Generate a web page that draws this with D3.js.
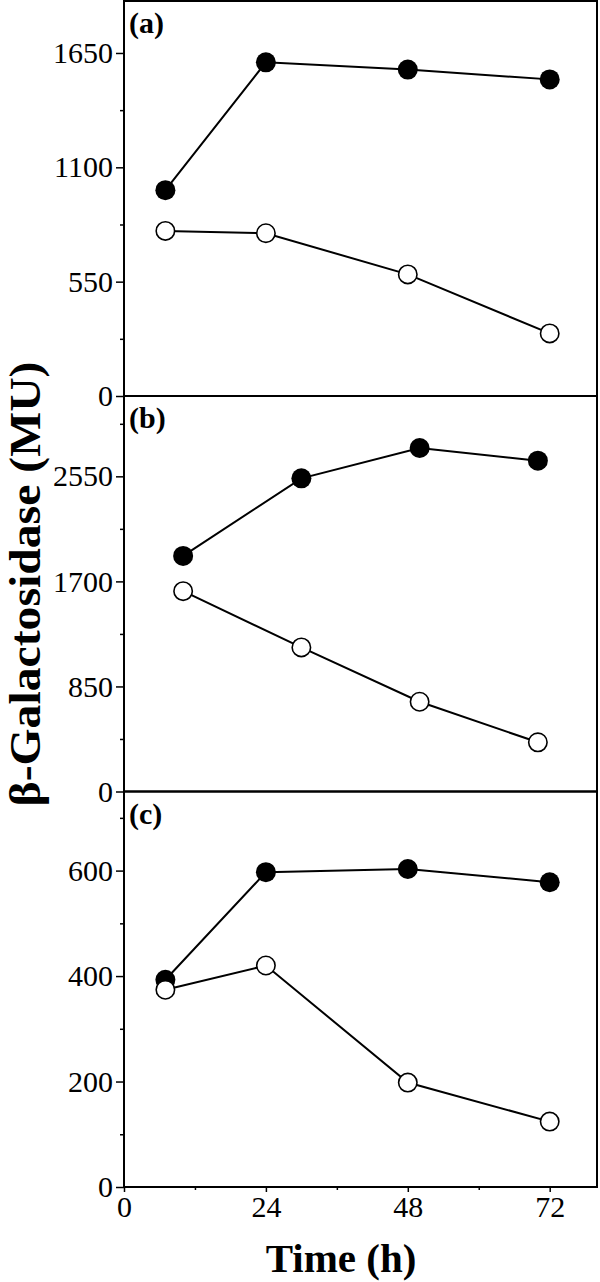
<!DOCTYPE html>
<html>
<head>
<meta charset="utf-8">
<script src="https://cdn.jsdelivr.net/npm/d3@7"></script>
<style>
  html, body { margin: 0; padding: 0; background: #fff; }
  svg { display: block; }
  text { font-family: "Liberation Serif", "Times New Roman", serif; }
</style>
</head>
<body>
<svg id="chart" width="600" height="1282"></svg>
<script>
// ---- data ----
const panelLabels = ["(a)", "(b)", "(c)"];
const timesA = [7, 24, 48, 72];
const timesB = [10, 30, 50, 70];
const timesC = [7, 24, 48, 72];
const filledA = [990, 1605, 1570, 1523];
const openA   = [794, 783, 585, 301];
const filledB = [1906, 2534, 2779, 2677];
const openB   = [1621, 1166, 726, 398];
const filledC = [393, 597, 603, 578];
const openC   = [374, 420, 198, 124];
const yMaxes = [1900, 3200, 750];
const yTicksA = [0, 550, 1100, 1650];
const yTicksB = [0, 850, 1700, 2550];
const yTicksC = [0, 200, 400, 600];
const yMinorStep = [275, 425, 100];
const xTicks = [0, 24, 48, 72];
const xMinor = [12, 36, 60];
const xMax = 80;
const yTitle = "β-Galactosidase (MU)";
const xTitle = "Time (h)";

const panels = [
  {label: panelLabels[0], t: timesA, f: filledA, o: openA, yMax: yMaxes[0], ticks: yTicksA, minor: yMinorStep[0]},
  {label: panelLabels[1], t: timesB, f: filledB, o: openB, yMax: yMaxes[1], ticks: yTicksB, minor: yMinorStep[1]},
  {label: panelLabels[2], t: timesC, f: filledC, o: openC, yMax: yMaxes[2], ticks: yTicksC, minor: yMinorStep[2]}
];

const svg = d3.select("#chart");
const left = 124, right = 597;
const tops = [1, 396, 791.5];
const bottoms = [396, 791.5, 1187];

const x = d3.scaleLinear().domain([0, xMax]).range([left, right]);

panels.forEach((p, i) => {
  const y = d3.scaleLinear().domain([0, p.yMax]).range([bottoms[i], tops[i]]);
  const g = svg.append("g");

  // minor ticks
  const minorVals = d3.range(p.minor, p.yMax, p.minor).filter(v => !p.ticks.includes(v));
  g.append("g").attr("transform", `translate(${left},0)`)
    .call(d3.axisLeft(y).tickValues(minorVals).tickSize(4).tickFormat(""))
    .call(a => a.select(".domain").remove())
    .selectAll("line").attr("stroke", "#000").attr("stroke-width", 1.5);

  // major ticks
  const ax = g.append("g").attr("transform", `translate(${left},0)`)
    .call(d3.axisLeft(y).tickValues(p.ticks).tickSize(8).tickPadding(3).tickFormat(d3.format("d")));
  ax.select(".domain").remove();
  ax.selectAll("line").attr("stroke", "#000").attr("stroke-width", 1.5);
  ax.selectAll("text").attr("font-size", 30).attr("fill", "#000")
    .style("font-family", '"Liberation Serif", serif');

  // frame
  g.append("rect")
    .attr("x", left).attr("y", tops[i])
    .attr("width", right - left).attr("height", bottoms[i] - tops[i])
    .attr("fill", "none").attr("stroke", "#000").attr("stroke-width", 2);

  // panel label
  g.append("text").attr("x", left + 5).attr("y", tops[i] + 32)
    .attr("font-size", 30).attr("font-weight", "bold").text(p.label);

  const line = d3.line().x(d => x(d[0])).y(d => y(d[1]));
  const fData = p.t.map((t, k) => [t, p.f[k]]);
  const oData = p.t.map((t, k) => [t, p.o[k]]);

  g.append("path").datum(fData).attr("d", line)
    .attr("fill", "none").attr("stroke", "#000").attr("stroke-width", 2);
  g.append("path").datum(oData).attr("d", line)
    .attr("fill", "none").attr("stroke", "#000").attr("stroke-width", 2);

  g.selectAll(".fdot").data(fData).enter().append("circle")
    .attr("cx", d => x(d[0])).attr("cy", d => y(d[1])).attr("r", 10)
    .attr("fill", "#000");
  g.selectAll(".odot").data(oData).enter().append("circle")
    .attr("cx", d => x(d[0])).attr("cy", d => y(d[1])).attr("r", 9.2)
    .attr("fill", "#fff").attr("stroke", "#000").attr("stroke-width", 1.6);

  if (i === 2) {
    g.append("g").attr("transform", `translate(0,${bottoms[i]})`)
      .call(d3.axisBottom(x).tickValues(xMinor).tickSize(3).tickFormat(""))
      .call(a => a.select(".domain").remove())
      .selectAll("line").attr("stroke", "#000").attr("stroke-width", 1.5);
    const bx = g.append("g").attr("transform", `translate(0,${bottoms[i]})`)
      .call(d3.axisBottom(x).tickValues(xTicks).tickSize(5).tickPadding(4).tickFormat(d3.format("d")));
    bx.select(".domain").remove();
    bx.selectAll("line").attr("stroke", "#000").attr("stroke-width", 1.5);
    bx.selectAll("text").attr("font-size", 30).attr("fill", "#000")
      .style("font-family", '"Liberation Serif", serif');
  }
});

// axis titles
svg.append("text")
  .attr("transform", `translate(40,584) rotate(-90)`)
  .attr("text-anchor", "middle")
  .attr("font-size", 45).attr("font-weight", "bold")
  .attr("textLength", 445).attr("lengthAdjust", "spacingAndGlyphs")
  .text(yTitle);

svg.append("text")
  .attr("x", 341).attr("y", 1272)
  .attr("text-anchor", "middle")
  .attr("font-size", 41).attr("font-weight", "bold")
  .text(xTitle);
</script>
</body>
</html>
